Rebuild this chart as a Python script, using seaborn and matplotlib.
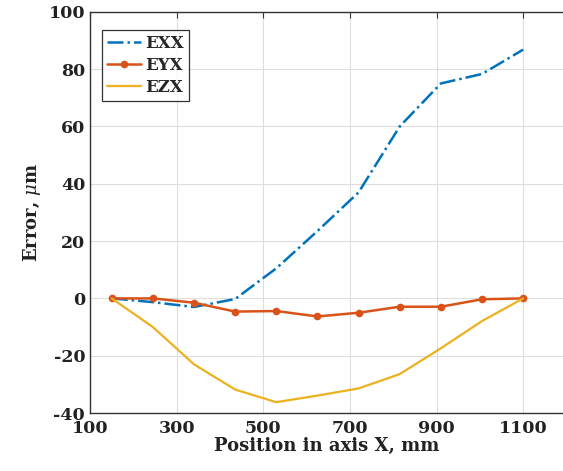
import pandas as pd
import matplotlib
matplotlib.use('Agg')
import matplotlib.pyplot as plt
import seaborn as sns

# positions along axis X (mm)
position = [150, 245, 340, 435, 530, 625, 720, 815, 910, 1005, 1100]

# error values (um)
exx = [0, -1.3, -3.0, -0.2, 10.5, 23.5, 37.0, 60.0, 75.0, 78.3, 86.8]
eyx = [0, 0, -1.5, -4.6, -4.4, -6.3, -5.0, -2.9, -2.9, -0.3, 0]
ezx = [0, -10.0, -23.0, -31.8, -36.2, -33.9, -31.4, -26.4, -17.4, -7.9, 0]

xticks = [100, 300, 500, 700, 900, 1100]
yticks = [-40, -20, 0, 20, 40, 60, 80, 100]

data = pd.DataFrame({'Position': position, 'EXX': exx, 'EYX': eyx, 'EZX': ezx})

sns.set_style('white')
plt.rcParams['font.family'] = ['DejaVu Serif']
plt.rcParams['mathtext.fontset'] = 'dejavuserif'
plt.rcParams['axes.unicode_minus'] = False

fig = plt.figure(figsize=(5.63, 4.71), dpi=100)
ax = fig.add_axes([0.16, 0.123, 0.84, 0.852])

sns.lineplot(x='Position', y='EXX', data=data, ax=ax, color='#0072BD',
             linestyle='-.', linewidth=1.8, label='EXX')
sns.lineplot(x='Position', y='EYX', data=data, ax=ax, color='#D95319',
             linewidth=1.8, marker='o', markersize=5.5, markeredgewidth=0, label='EYX')
sns.lineplot(x='Position', y='EZX', data=data, ax=ax, color='#EDB120',
             linewidth=1.6, label='EZX')

ax.set_xlim(100, 1192)
ax.set_ylim(-40, 100)
ax.set_xticks(xticks)
ax.set_yticks(yticks)
ax.grid(True, color='#dddddd', linewidth=0.8)
ax.tick_params(direction='in', length=4, top=True, labelsize=12.5, color='#333333')
ax.tick_params(axis='x', pad=5)
for lbl in ax.get_xticklabels() + ax.get_yticklabels():
    lbl.set_fontweight('bold')
    lbl.set_color('#222222')
ax.spines['right'].set_visible(False)
for s in ['left', 'bottom', 'top']:
    ax.spines[s].set_color('#333333')
    ax.spines[s].set_linewidth(1.0)

ax.set_xlabel('Position in axis X, mm', fontsize=13, fontweight='bold', color='#222222', labelpad=0)
ax.set_ylabel(r'Error, $\mu$m', fontsize=13, fontweight='bold', color='#222222', labelpad=4)

leg = ax.legend(loc='upper left', bbox_to_anchor=(0.008, 0.975), frameon=True, fancybox=False,
                edgecolor='black', handlelength=2.0, handletextpad=0.3, borderpad=0.3,
                labelspacing=0.3, prop={'weight': 'bold', 'size': 12})
leg.get_frame().set_linewidth(0.9)

fig.savefig('out.png', dpi=100)
